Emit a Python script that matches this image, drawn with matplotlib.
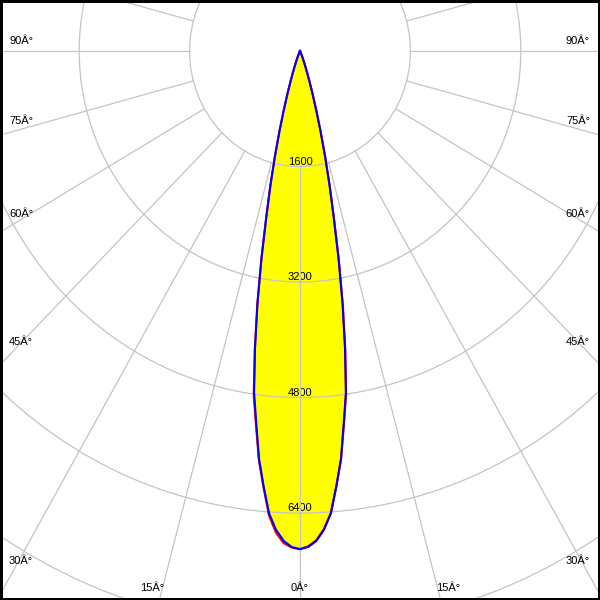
import numpy as np
import matplotlib
matplotlib.use("Agg")
import matplotlib.pyplot as plt
from matplotlib.patches import Rectangle

plt.rcParams['font.family'] = ['Liberation Sans', 'DejaVu Sans']

# ---- data (gamma angles in degrees, intensities in cd) ----
gamma = list(range(0, 31)) + [40, 50, 60, 70, 80, 90]
blue_c90 = [6900, 6870, 6790, 6640, 6420, 6050, 5680, 5200, 4780, 4170,
            3550, 2930, 2350, 1900, 1500, 1150, 860, 630, 450, 320,
            220, 150, 100, 65, 40, 25, 15, 8, 4, 2, 0, 0, 0, 0, 0, 0, 0]
blue_c270 = [6900, 6870, 6790, 6640, 6420, 6050, 5680, 5200, 4780, 4170,
             3550, 2930, 2350, 1900, 1500, 1150, 860, 630, 450, 320,
             220, 150, 100, 65, 40, 25, 15, 8, 4, 2, 0, 0, 0, 0, 0, 0, 0]
red_c0 = [6900, 6860, 6780, 6630, 6410, 6050, 5690, 5220, 4800, 4200,
          3580, 2950, 2360, 1900, 1500, 1150, 860, 630, 450, 320,
          220, 150, 100, 65, 40, 25, 15, 8, 4, 2, 0, 0, 0, 0, 0, 0, 0]
red_c180 = [6900, 6880, 6820, 6680, 6450, 6070, 5700, 5230, 4820, 4190,
            3560, 2930, 2350, 1900, 1500, 1150, 860, 630, 450, 320,
            220, 150, 100, 65, 40, 25, 15, 8, 4, 2, 0, 0, 0, 0, 0, 0, 0]

ring_values = [1600, 3200, 4800, 6400, 8000]
ring_labels = ["1600", "3200", "4800", "6400", ""]
angle_labels = ["0Â°", "15Â°", "30Â°", "45Â°", "60Â°", "75Â°", "90Â°"]

# ---- layout ----
W = H = 600
fig = plt.figure(figsize=(6, 6), dpi=100)
fig.patch.set_facecolor('white')

RMAX = 9000
kx = 0.0690   # px per cd horizontally
ky = 0.0722   # px per cd vertically
cx, cy = 300, 51  # centre in image pixels (from top)
aw = 2 * RMAX * kx
ah = 2 * RMAX * ky
ax = fig.add_axes([(cx - aw / 2) / W, ((H - cy) - ah / 2) / H, aw / W, ah / H],
                  projection='polar')
ax.set_aspect('auto')
ax.set_theta_zero_location('S')
ax.set_theta_direction(1)
ax.set_ylim(0, RMAX)
ax.spines['polar'].set_visible(False)
ax.set_facecolor('white')
ax.set_xticks([])
ax.set_yticks(ring_values)
ax.set_yticklabels([])
ax.tick_params(length=0)
ax.xaxis.grid(False)
ax.yaxis.grid(True, color='#c4c4c4', lw=0.9)
ax.set_axisbelow('line')

g = np.radians(np.array(gamma, dtype=float))
theta = np.concatenate([-g[::-1], g[1:]])
r_red = np.concatenate([np.array(red_c180)[::-1], np.array(red_c0)[1:]])
r_blue = np.concatenate([np.array(blue_c270)[::-1], np.array(blue_c90)[1:]])

ax.fill(theta, r_blue, color='#ffff00', zorder=1, lw=0)

# radial grid lines from the first ring outward
for a in range(0, 360, 15):
    ax.plot([np.radians(a)] * 2, [ring_values[0], RMAX], color='#c4c4c4', lw=0.9, zorder=1.6)

for v, lab in zip(ring_values, ring_labels):
    if lab:
        ax.text(0, v, lab, ha='center', va='bottom', fontsize=8, color='black', zorder=1.55)

ax.plot(theta, r_red, color='#ff0000', lw=1.5, zorder=3)
ax.plot(theta, r_blue, color='#0000ff', lw=1.5, zorder=4)

# angle labels (figure pixel positions)
def ftext(x, y, s, ha):
    fig.text(x / W, 1 - y / H, s, ha=ha, va='center', fontsize=8, color='black')

left_y = {90: 41, 75: 121, 60: 214, 45: 342, 30: 561}
for i, lab in enumerate(angle_labels):
    a = i * 15
    if a in left_y:
        ftext(9, left_y[a], lab, 'left')
        ftext(590, left_y[a], lab, 'right')
ftext(300, 588, angle_labels[0], 'center')
ftext(152, 588, angle_labels[1], 'center')
ftext(448, 588, angle_labels[1], 'center')

fig.add_artist(Rectangle((0, 0), 1, 1, transform=fig.transFigure, fill=False,
                         ec='black', lw=3.6, zorder=10))

fig.savefig('out.png', dpi=100)
